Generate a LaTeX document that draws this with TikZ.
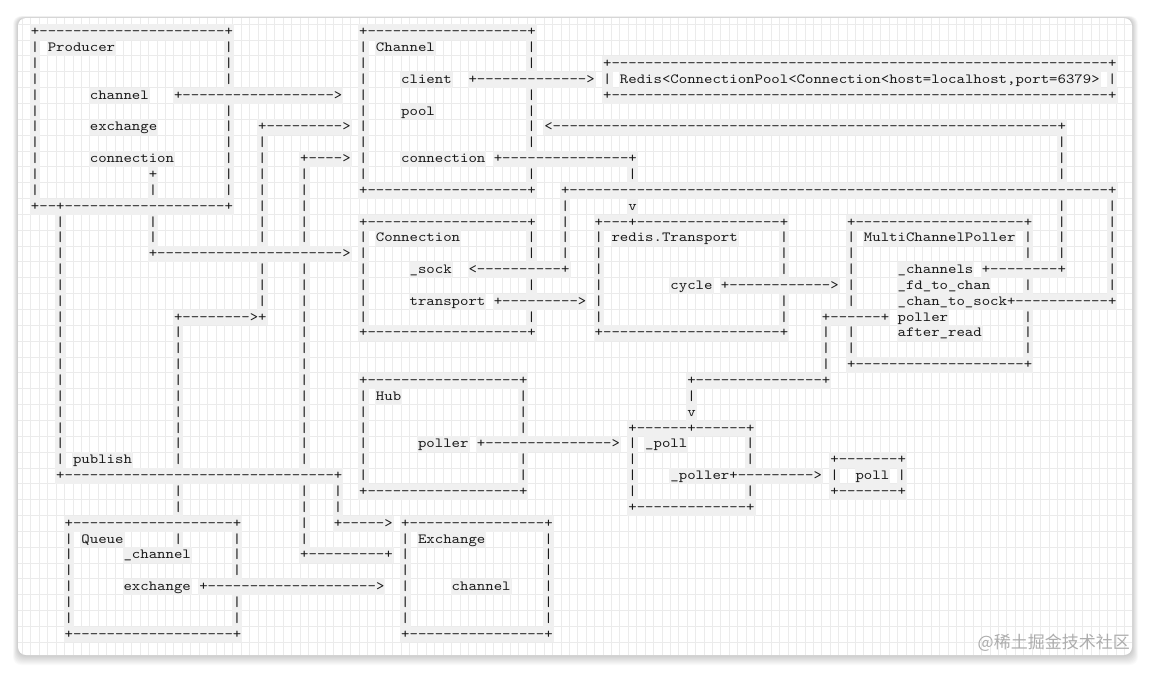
\documentclass[tikz,border=0pt]{standalone}
\usepackage{fontspec}
\setmonofont{lmmono10-regular.otf}[FakeStretch=1.145]
\newfontfamily\cjk{Noto Sans CJK SC}
\ExplSyntaxOn
\cs_new:Npn \dashrun #1 {\prg_replicate:nn{#1}{-}}
\ExplSyntaxOff
\newcommand\dsh[1]{\dashrun{#1}}
\tikzset{
  asciirun/.style={anchor=base west, inner xsep=1pt, inner ysep=0pt,
    text height=11.5pt, text depth=4.35pt, fill=black!6,
    font=\fontsize{14}{15.85}\selectfont\ttfamily, text=black!90},
  gridline/.style={draw=black!8, line width=0.7pt},
  card/.style={fill=white, rounded corners=8pt}
}
\newcommand\asc[3]{\node[asciirun] (r#1c#2) at ({29.793+8.414*(#2)},{35.8+15.85*(#1)}) {#3};}
\begin{document}
\begin{tikzpicture}[x=1pt,y=-1pt]
\useasboundingbox (0,0) rectangle (1150,673);
\fill[white] (0,0) rectangle (1150,673);
% shadow
\foreach \i in {1,...,10}{
  \fill[black, opacity=0.018, rounded corners=8pt] ({18-0.5*\i},{18-0.2*\i}) rectangle ({1132+0.6*\i},{655+1.0*\i});
}
\path[card] (18,18) rectangle (1132,655);
% grid of character cells
\begin{scope}
\clip[rounded corners=8pt] (18,18) rectangle (1132,655);
\foreach \k in {-3,...,130}{
  \draw[gridline] ({39.207+8.414*\k},18) -- ({39.207+8.414*\k},655);
}
\foreach \k in {-1,...,40}{
  \draw[gridline] (18,{24.075+15.85*\k}) -- (1132,{24.075+15.85*\k});
}
\end{scope}
% row 0
\asc{0}{0}{+\dsh{22}+} \asc{0}{39}{+\dsh{19}+}
% row 1
\asc{1}{0}{|} \asc{1}{2}{Producer} \asc{1}{23}{|}
\asc{1}{39}{|} \asc{1}{41}{Channel} \asc{1}{59}{|}
% row 2
\asc{2}{0}{|} \asc{2}{23}{|} \asc{2}{39}{|} \asc{2}{59}{|}
\asc{2}{68}{+\dsh{59}+}
% row 3
\asc{3}{0}{|} \asc{3}{23}{|} \asc{3}{39}{|} \asc{3}{44}{client} \asc{3}{52}{+\dsh{13}>}
\asc{3}{68}{|} \asc{3}{70}{Redis<ConnectionPool<Connection<host=localhost,port=6379>} \asc{3}{128}{|}
% row 4
\asc{4}{0}{|} \asc{4}{7}{channel} \asc{4}{17}{+\dsh{18}>} \asc{4}{39}{|} \asc{4}{59}{|} \asc{4}{68}{+\dsh{59}+}
% row 5
\asc{5}{0}{|} \asc{5}{23}{|} \asc{5}{39}{|} \asc{5}{44}{pool} \asc{5}{59}{|}
% row 6
\asc{6}{0}{|} \asc{6}{7}{exchange} \asc{6}{23}{|} \asc{6}{27}{+\dsh{9}>} \asc{6}{39}{|} \asc{6}{59}{|} \asc{6}{61}{<\dsh{60}+}
% row 7
\asc{7}{0}{|} \asc{7}{23}{|} \asc{7}{27}{|} \asc{7}{39}{|} \asc{7}{59}{|} \asc{7}{122}{|}
% row 8
\asc{8}{0}{|} \asc{8}{7}{connection} \asc{8}{23}{|} \asc{8}{27}{|} \asc{8}{32}{+\dsh{4}>} \asc{8}{39}{|} \asc{8}{44}{connection} \asc{8}{55}{+\dsh{15}+} \asc{8}{122}{|}
% row 9
\asc{9}{0}{|} \asc{9}{14}{+} \asc{9}{23}{|} \asc{9}{27}{|} \asc{9}{32}{|} \asc{9}{39}{|} \asc{9}{59}{|} \asc{9}{71}{|} \asc{9}{122}{|}
% row 10
\asc{10}{0}{|} \asc{10}{14}{|} \asc{10}{23}{|} \asc{10}{27}{|} \asc{10}{32}{|} \asc{10}{39}{+\dsh{19}+} \asc{10}{63}{+\dsh{64}+}
% row 11
\asc{11}{0}{+\dsh{2}+\dsh{19}+} \asc{11}{27}{|} \asc{11}{32}{|} \asc{11}{63}{|} \asc{11}{71}{v} \asc{11}{122}{|} \asc{11}{128}{|}
% row 12
\asc{12}{3}{|} \asc{12}{14}{|} \asc{12}{27}{|} \asc{12}{32}{|} \asc{12}{39}{+\dsh{19}+} \asc{12}{63}{|} \asc{12}{67}{+\dsh{3}+\dsh{17}+} \asc{12}{97}{+\dsh{20}+} \asc{12}{122}{|} \asc{12}{128}{|}
% row 13
\asc{13}{3}{|} \asc{13}{14}{|} \asc{13}{27}{|} \asc{13}{32}{|} \asc{13}{39}{|} \asc{13}{41}{Connection} \asc{13}{59}{|} \asc{13}{63}{|} \asc{13}{67}{|} \asc{13}{69}{redis.Transport} \asc{13}{89}{|} \asc{13}{97}{|} \asc{13}{99}{MultiChannelPoller} \asc{13}{118}{|} \asc{13}{122}{|} \asc{13}{128}{|}
% row 14
\asc{14}{3}{|} \asc{14}{14}{+\dsh{22}>} \asc{14}{39}{|} \asc{14}{59}{|} \asc{14}{63}{|} \asc{14}{67}{|} \asc{14}{89}{|} \asc{14}{97}{|} \asc{14}{118}{|} \asc{14}{122}{|} \asc{14}{128}{|}
% row 15
\asc{15}{3}{|} \asc{15}{27}{|} \asc{15}{32}{|} \asc{15}{39}{|} \asc{15}{45}{\_sock} \asc{15}{52}{<\dsh{10}+} \asc{15}{67}{|} \asc{15}{89}{|} \asc{15}{97}{|} \asc{15}{103}{\_channels} \asc{15}{113}{+\dsh{8}+} \asc{15}{128}{|}
% row 16
\asc{16}{3}{|} \asc{16}{27}{|} \asc{16}{32}{|} \asc{16}{39}{|} \asc{16}{59}{|} \asc{16}{67}{|} \asc{16}{76}{cycle} \asc{16}{82}{+\dsh{12}>} \asc{16}{97}{|} \asc{16}{103}{\_fd\_to\_chan} \asc{16}{118}{|} \asc{16}{128}{|}
% row 17
\asc{17}{3}{|} \asc{17}{27}{|} \asc{17}{32}{|} \asc{17}{39}{|} \asc{17}{45}{transport} \asc{17}{55}{+\dsh{9}>} \asc{17}{67}{|} \asc{17}{89}{|} \asc{17}{97}{|} \asc{17}{103}{\_chan\_to\_sock+\dsh{11}+}
% row 18
\asc{18}{3}{|} \asc{18}{17}{+\dsh{8}>+} \asc{18}{32}{|} \asc{18}{39}{|} \asc{18}{59}{|} \asc{18}{67}{|} \asc{18}{89}{|} \asc{18}{94}{+\dsh{6}+} \asc{18}{103}{poller} \asc{18}{118}{|}
% row 19
\asc{19}{3}{|} \asc{19}{17}{|} \asc{19}{32}{|} \asc{19}{39}{+\dsh{19}+} \asc{19}{67}{+\dsh{21}+} \asc{19}{94}{|} \asc{19}{97}{|} \asc{19}{103}{after\_read} \asc{19}{118}{|}
% row 20
\asc{20}{3}{|} \asc{20}{17}{|} \asc{20}{32}{|} \asc{20}{94}{|} \asc{20}{97}{|} \asc{20}{118}{|}
% row 21
\asc{21}{3}{|} \asc{21}{17}{|} \asc{21}{32}{|} \asc{21}{94}{|} \asc{21}{97}{+\dsh{20}+}
% row 22
\asc{22}{3}{|} \asc{22}{17}{|} \asc{22}{32}{|} \asc{22}{39}{+\dsh{18}+} \asc{22}{78}{+\dsh{15}+}
% row 23
\asc{23}{3}{|} \asc{23}{17}{|} \asc{23}{32}{|} \asc{23}{39}{|} \asc{23}{41}{Hub} \asc{23}{58}{|} \asc{23}{78}{|}
% row 24
\asc{24}{3}{|} \asc{24}{17}{|} \asc{24}{32}{|} \asc{24}{39}{|} \asc{24}{58}{|} \asc{24}{78}{v}
% row 25
\asc{25}{3}{|} \asc{25}{17}{|} \asc{25}{32}{|} \asc{25}{39}{|} \asc{25}{58}{|} \asc{25}{71}{+\dsh{6}+\dsh{6}+}
% row 26
\asc{26}{3}{|} \asc{26}{17}{|} \asc{26}{32}{|} \asc{26}{39}{|} \asc{26}{46}{poller} \asc{26}{53}{+\dsh{15}>} \asc{26}{71}{|} \asc{26}{73}{\_poll} \asc{26}{85}{|}
% row 27
\asc{27}{3}{|} \asc{27}{5}{publish} \asc{27}{17}{|} \asc{27}{32}{|} \asc{27}{39}{|} \asc{27}{58}{|} \asc{27}{71}{|} \asc{27}{85}{|} \asc{27}{95}{+\dsh{7}+}
% row 28
\asc{28}{3}{+\dsh{32}+} \asc{28}{39}{|} \asc{28}{58}{|} \asc{28}{71}{|} \asc{28}{76}{\_poller+\dsh{9}>} \asc{28}{95}{|} \asc{28}{98}{poll} \asc{28}{103}{|}
% row 29
\asc{29}{17}{|} \asc{29}{32}{|} \asc{29}{36}{|} \asc{29}{39}{+\dsh{18}+} \asc{29}{71}{|} \asc{29}{85}{|} \asc{29}{95}{+\dsh{7}+}
% row 30
\asc{30}{17}{|} \asc{30}{32}{|} \asc{30}{36}{|} \asc{30}{71}{+\dsh{13}+}
% row 31
\asc{31}{4}{+\dsh{19}+} \asc{31}{32}{|} \asc{31}{36}{+\dsh{5}>} \asc{31}{44}{+\dsh{16}+}
% row 32
\asc{32}{4}{|} \asc{32}{6}{Queue} \asc{32}{17}{|} \asc{32}{24}{|} \asc{32}{32}{|} \asc{32}{44}{|} \asc{32}{46}{Exchange} \asc{32}{61}{|}
% row 33
\asc{33}{4}{|} \asc{33}{11}{\_channel} \asc{33}{24}{|} \asc{33}{32}{+\dsh{9}+} \asc{33}{44}{|} \asc{33}{61}{|}
% row 34
\asc{34}{4}{|} \asc{34}{24}{|} \asc{34}{44}{|} \asc{34}{61}{|}
% row 35
\asc{35}{4}{|} \asc{35}{11}{exchange} \asc{35}{20}{+\dsh{20}>} \asc{35}{44}{|} \asc{35}{50}{channel} \asc{35}{61}{|}
% row 36
\asc{36}{4}{|} \asc{36}{24}{|} \asc{36}{44}{|} \asc{36}{61}{|}
% row 37
\asc{37}{4}{|} \asc{37}{24}{|} \asc{37}{44}{|} \asc{37}{61}{|}
% row 38
\asc{38}{4}{+\dsh{19}+} \asc{38}{44}{+\dsh{16}+}
% watermark
\node[anchor=east, inner sep=0pt, font=\cjk\fontsize{17}{17}\selectfont, text=black!32] (wm) at (1130,643) {@稀土掘金技术社区};
\end{tikzpicture}
\end{document}
